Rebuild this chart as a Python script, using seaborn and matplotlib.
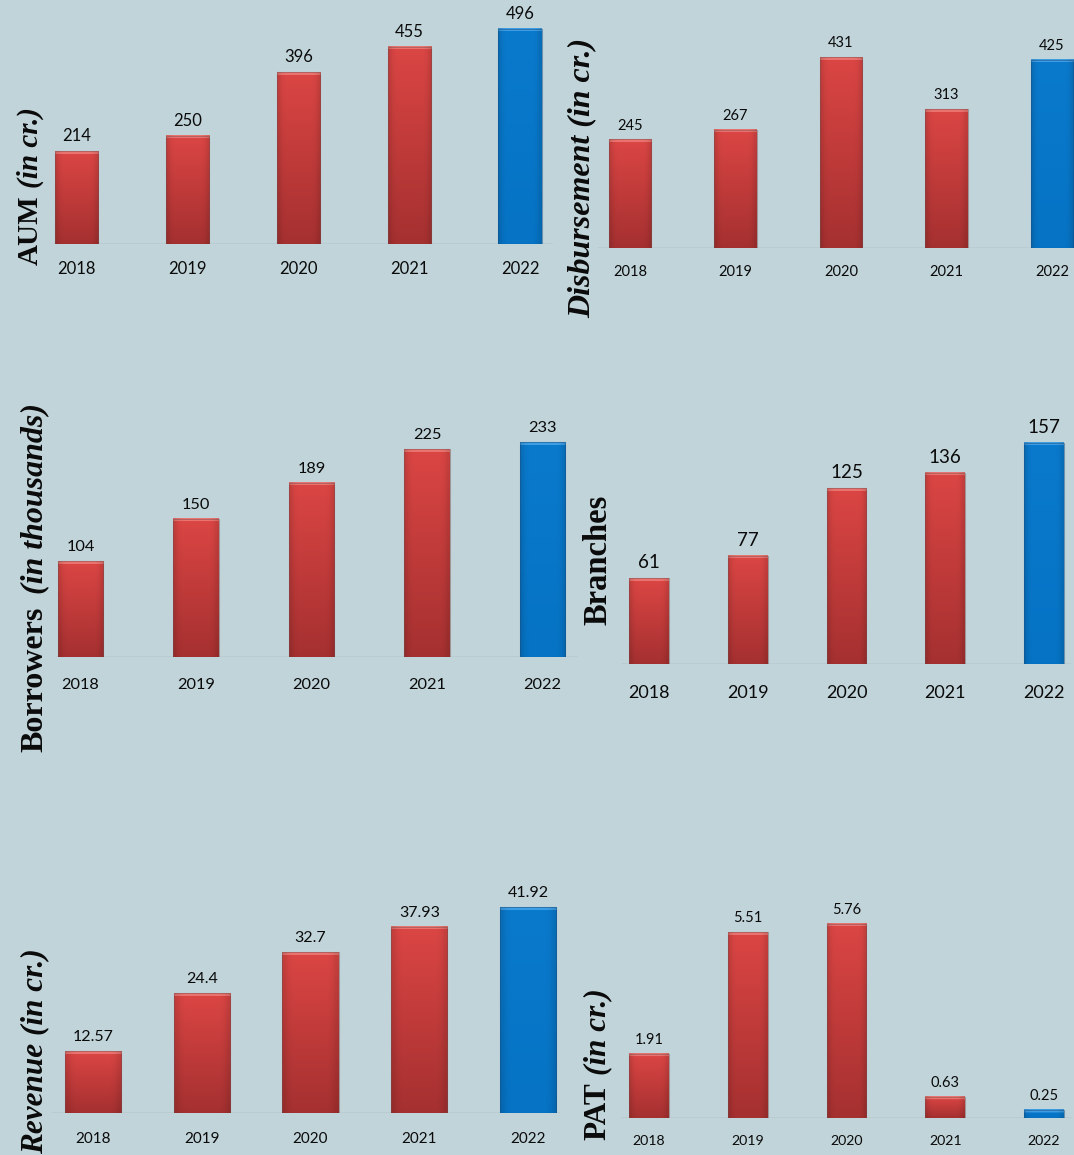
import numpy as np
import pandas as pd
import matplotlib
matplotlib.use("Agg")
import matplotlib.pyplot as plt
import seaborn as sns
from matplotlib.colors import to_rgb

# ---------------- data ----------------
years = ["2018", "2019", "2020", "2021", "2022"]
aum = [214, 250, 396, 455, 496]
disbursement = [245, 267, 431, 313, 425]
borrowers = [104, 150, 189, 225, 233]
branches = [61, 77, 125, 136, 157]
revenue = [12.57, 24.4, 32.7, 37.93, 41.92]
pat = [1.91, 5.51, 5.76, 0.63, 0.25]

label_aum = [("AUM", "normal"), ("(in cr.)", "italic")]
label_disb = [("Disbursement (in cr.)", "italic")]
label_borr = [("Borrowers", "normal"), ("(in thousands)", "italic")]
label_branch = [("Branches", "normal")]
label_rev = [("Revenue (in cr.)", "italic")]
label_pat = [("PAT", "normal"), ("(in cr.)", "italic")]

# ---------------- style ----------------
W, H = 1074, 1155
BG = "#C1D4DA"
RED_TOP, RED_BOT, RED_BEVEL = "#DB4644", "#A53030", "#EC7470"
BLUE_TOP, BLUE_BOT, BLUE_BEVEL = "#0A7ACD", "#0673C4", "#3FA0E6"
TXT = "#0A0A0A"

sns.set_theme(style="white")
plt.rcParams["font.family"] = ["Lato", "DejaVu Sans"]
plt.rcParams["figure.facecolor"] = BG

fig = plt.figure(figsize=(W / 100, H / 100), dpi=100)
fig.patch.set_facecolor(BG)


def shade(ax):
    """Overlay a vertical gradient (with a light top bevel) on each bar."""
    fig.canvas.draw()
    for i, patch in enumerate(ax.patches):
        x, y = patch.get_xy()
        w, h = patch.get_width(), patch.get_height()
        if h <= 0:
            continue
        p0 = ax.transData.transform((x, y))
        p1 = ax.transData.transform((x, y + h))
        hpx = max(int(round(p1[1] - p0[1])), 3)
        blue = i == len(ax.patches) - 1
        top, bot, bev = (BLUE_TOP, BLUE_BOT, BLUE_BEVEL) if blue else (RED_TOP, RED_BOT, RED_BEVEL)
        t = np.linspace(0, 1, hpx)[:, None]
        arr = (1 - t) * np.array(to_rgb(top)) + t * np.array(to_rgb(bot))
        nb = min(3, hpx - 1)
        arr[:nb] = np.array(to_rgb(bev))
        cols = 12
        s = np.linspace(-1, 1, cols)
        side = 1 - 0.10 * np.clip(np.abs(s) - 0.75, 0, None) / 0.25
        img = arr[:, None, :] * side[None, :, None]
        ax.imshow(img, extent=[x, x + w, y, y + h], aspect="auto",
                  interpolation="bilinear", zorder=2)
        patch.set_facecolor("none")
        patch.set_edgecolor((0.45, 0.3, 0.3, 0.45) if not blue else (0.1, 0.3, 0.5, 0.5))
        patch.set_linewidth(0.8)
        patch.set_zorder(3)


def panel(values, left, right, base, top, scale, c0, step, width,
          tick_fs, val_fs, tick_pad, label_parts, lab_x, lab_bottom, lab_fs, gap=5):
    ax = fig.add_axes([left / W, 1 - base / H, (right - left) / W, (base - top) / H])
    ax.set_facecolor("none")
    df = pd.DataFrame({"year": years, "value": values})
    pal = {yr: (BLUE_TOP if yr == years[-1] else RED_TOP) for yr in years}
    sns.barplot(data=df, x="year", y="value", hue="year", palette=pal, dodge=False,
                width=width, saturation=1, legend=False, ax=ax)
    ymax = (base - top) / scale
    xl = ((left - c0) / step, (right - c0) / step)
    ax.set_xlim(*xl)
    ax.set_ylim(0, ymax)
    shade(ax)
    ax.set_xlim(*xl)
    ax.set_ylim(0, ymax)
    ax.axhline(0, color="#9EAFB6", lw=1.0, zorder=1)
    for s in ax.spines.values():
        s.set_visible(False)
    ax.set_yticks([])
    ax.set_xlabel("")
    ax.set_ylabel("")
    ax.tick_params(axis="x", length=0, pad=tick_pad, labelsize=tick_fs, labelcolor=TXT)
    for patch, v in zip(ax.patches, values):
        ax.annotate(f"{v:g}", xy=(patch.get_x() + patch.get_width() / 2, patch.get_height()),
                    xytext=(0, 5), textcoords="offset points", ha="center", va="bottom",
                    fontsize=val_fs, color=TXT, zorder=5)
    prev = None
    for txt, style in label_parts:
        if prev is None:
            prev = fig.text(lab_x / W, 1 - lab_bottom / H, txt, rotation=90, ha="center",
                            va="bottom", fontsize=lab_fs, fontweight="bold", fontstyle=style,
                            family=["Liberation Serif", "DejaVu Serif"], color=TXT)
        else:
            prev = ax.annotate(txt, xy=(0.5, 1), xycoords=prev, xytext=(0, gap),
                               textcoords="offset points", rotation=90, ha="center",
                               va="bottom", fontsize=lab_fs, fontweight="bold", fontstyle=style,
                               family=["Liberation Serif", "DejaVu Serif"], color=TXT,
                               annotation_clip=False)
    return ax


panel(aum, 53, 553, 244, 0, 0.4335, 76.5, 110.9, 0.39,
      12, 12, 12, label_aum, 30, 265, 21)
panel(disbursement, 597, 1074, 248, 0, 0.443, 630, 105.5, 0.40,
      10.5, 10.5, 12, label_disb, 582, 318, 23)
panel(borrowers, 55, 578, 657, 400, 0.9227, 80.5, 115.5, 0.39,
      11.8, 11.8, 15, label_borr, 35, 752, 23, gap=9)
panel(branches, 621, 1071, 664, 400, 1.408, 649, 98.75, 0.405,
      13, 13.5, 15, label_branch, 598, 625, 23.5)
panel(revenue, 51, 560, 1113, 870, 4.914, 93, 108.75, 0.515,
      11, 11.5, 14, label_rev, 35, 1154, 22.5)
panel(pat, 621, 1072, 1118, 880, 33.7, 649, 98.75, 0.405,
      10.2, 10.5, 12, label_pat, 598, 1140, 22.5)

fig.savefig("out.png", dpi=100, facecolor=BG)
